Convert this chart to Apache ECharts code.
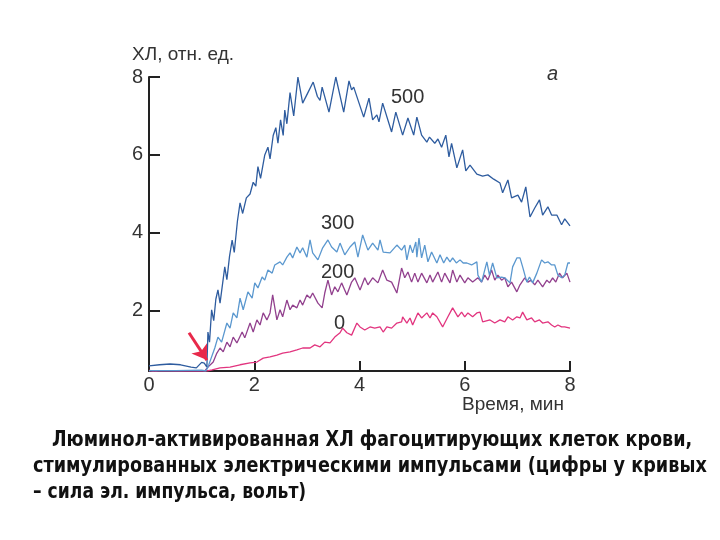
<!DOCTYPE html>
<html>
<head>
<meta charset="utf-8">
<script src="https://cdn.jsdelivr.net/npm/echarts@6/dist/echarts.min.js"></script>
<style>html,body{margin:0;padding:0;background:#fff}#c{width:720px;height:540px}</style>
</head>
<body>
<div id="c"></div>
<script>
// ---- data (time, min ; chemiluminescence, rel. units) ----
const xTicks = [0, 2, 4, 6, 8];
const yTicks = [2, 4, 6, 8];
const seriesNames = ['500', '300', '200', '0'];

const t500 = [0,0.2,0.4,0.6,0.8,0.9,1.0,1.05,1.1,1.12,1.15,1.19,1.23,1.27,1.31,1.35,1.44,1.48,1.53,1.58,1.62,1.68,1.73,1.78,1.85,1.92,1.98,2.03,2.07,2.12,2.2,2.26,2.3,2.36,2.41,2.45,2.5,2.55,2.58,2.62,2.68,2.75,2.83,2.92,3.02,3.12,3.2,3.25,3.29,3.42,3.55,3.70,3.80,3.85,3.89,4.08,4.18,4.25,4.33,4.37,4.44,4.61,4.69,4.82,4.92,5.03,5.09,5.18,5.28,5.33,5.43,5.49,5.56,5.64,5.70,5.75,5.85,5.96,6.02,6.10,6.23,6.34,6.44,6.55,6.67,6.72,6.82,6.89,7.01,7.08,7.16,7.24,7.33,7.42,7.48,7.58,7.65,7.75,7.84,7.90,8.0];
const v500 = [0.59,0.62,0.64,0.62,0.56,0.54,0.68,0.66,0.56,1.46,1.2,2.03,1.75,2.3,2.54,2.2,3.13,2.8,3.4,3.82,3.5,4.3,4.77,4.5,4.9,5.0,5.3,5.2,5.7,5.4,6.0,6.2,5.9,6.5,6.7,6.3,6.9,6.5,7.15,6.8,7.6,7.0,8.0,7.33,7.6,7.87,7.5,7.4,7.74,7.1,8.0,7.1,7.9,7.67,7.74,6.97,7.46,6.9,7.03,6.85,7.33,6.59,7.1,6.51,6.95,6.51,6.97,6.51,6.33,6.46,6.3,6.41,6.2,6.51,5.95,6.3,5.67,6.13,5.59,5.74,5.51,5.46,5.49,5.38,5.28,5.03,5.36,4.9,4.97,4.79,5.18,4.41,4.64,4.85,4.46,4.67,4.46,4.46,4.21,4.36,4.18];

const t300 = [0,0.5,1.0,1.08,1.12,1.25,1.31,1.38,1.48,1.54,1.6,1.67,1.73,1.79,1.88,1.96,2.01,2.07,2.15,2.2,2.26,2.34,2.39,2.49,2.54,2.62,2.68,2.73,2.81,2.87,2.92,3.0,3.06,3.11,3.21,3.30,3.40,3.47,3.57,3.63,3.72,3.82,3.91,3.97,4.06,4.16,4.25,4.35,4.39,4.45,4.58,4.71,4.8,4.86,4.9,4.96,5.01,5.07,5.09,5.13,5.18,5.24,5.3,5.37,5.47,5.53,5.6,5.66,5.72,5.77,5.84,5.91,5.97,6.04,6.13,6.23,6.25,6.32,6.42,6.47,6.53,6.61,6.70,6.76,6.86,6.91,6.99,7.05,7.10,7.18,7.23,7.29,7.37,7.46,7.52,7.58,7.65,7.71,7.77,7.84,7.9,7.96,8.0];
const v300 = [0.47,0.47,0.48,0.46,0.56,1.05,1.33,1.2,1.69,1.56,1.95,1.82,2.33,2.03,2.49,2.33,2.72,2.59,2.87,2.79,3.05,2.97,3.18,3.26,3.18,3.38,3.49,3.36,3.64,3.49,3.62,3.38,3.82,3.49,3.31,3.62,3.82,3.64,3.51,3.74,3.44,3.64,3.77,3.38,3.95,3.56,3.74,3.56,3.82,3.51,3.49,3.69,3.56,3.69,3.31,3.69,3.49,3.77,3.38,3.87,3.36,3.69,3.26,3.51,3.23,3.44,3.23,3.38,3.26,3.36,3.23,3.31,3.23,3.23,3.18,3.26,2.92,2.74,3.26,2.92,3.23,2.85,2.87,2.85,2.72,3.13,3.36,3.36,3.13,2.74,2.87,2.72,2.97,3.31,3.23,3.26,3.18,3.18,2.92,2.85,2.92,3.23,3.23];

const t200 = [0,0.5,1.0,1.06,1.12,1.22,1.29,1.35,1.41,1.48,1.54,1.6,1.67,1.77,1.82,1.92,1.98,2.05,2.11,2.17,2.24,2.3,2.35,2.43,2.49,2.54,2.62,2.68,2.73,2.81,2.87,2.92,3.0,3.06,3.11,3.21,3.29,3.34,3.40,3.47,3.53,3.59,3.66,3.76,3.85,3.91,4.01,4.10,4.16,4.25,4.35,4.44,4.52,4.61,4.71,4.8,4.86,4.92,4.99,5.05,5.11,5.18,5.28,5.34,5.39,5.49,5.56,5.62,5.72,5.77,5.85,5.91,6.0,6.06,6.15,6.25,6.32,6.38,6.44,6.51,6.57,6.63,6.70,6.76,6.82,6.89,6.99,7.05,7.14,7.20,7.26,7.33,7.39,7.48,7.56,7.61,7.67,7.73,7.80,7.86,7.94,8.0];
const v200 = [0.46,0.46,0.46,0.46,0.56,0.69,0.92,1.05,0.95,1.2,1.08,1.33,1.18,1.46,1.31,1.69,1.46,1.77,1.64,1.95,1.77,1.95,2.41,1.77,2.03,1.85,2.28,2.03,2.15,2.08,2.28,2.15,2.41,2.33,2.46,2.2,2.08,2.46,2.79,2.41,2.62,2.49,2.72,2.41,2.74,2.85,2.54,2.85,2.67,2.85,2.72,3.05,2.79,2.74,2.46,3.1,2.85,3.0,2.74,2.97,2.74,2.97,2.72,2.92,2.74,3.0,2.74,2.97,2.72,3.05,2.74,2.92,2.72,2.85,2.74,2.85,2.74,2.92,2.79,3.05,2.79,2.92,2.79,2.85,2.62,2.74,2.49,2.67,2.85,2.74,2.79,2.67,2.79,2.62,2.79,2.72,2.85,2.74,2.97,2.85,2.97,2.74];

const t0 = [0,0.1,0.2,0.6,1.1,1.2,1.35,1.54,1.73,1.92,2.05,2.17,2.3,2.43,2.54,2.68,2.81,2.92,3.06,3.15,3.25,3.34,3.44,3.53,3.63,3.68,3.76,3.85,3.95,4.01,4.10,4.20,4.29,4.39,4.45,4.52,4.61,4.71,4.8,4.82,4.9,4.96,5.01,5.11,5.18,5.28,5.34,5.39,5.47,5.58,5.68,5.77,5.87,5.94,6.0,6.06,6.15,6.23,6.29,6.34,6.48,6.57,6.67,6.76,6.82,6.91,6.99,7.05,7.10,7.18,7.27,7.33,7.42,7.48,7.58,7.65,7.71,7.77,7.84,7.9,8.0];
const v0 = [0.48,0.44,0.47,0.46,0.46,0.49,0.54,0.56,0.62,0.67,0.69,0.79,0.82,0.87,0.92,0.95,1.0,1.05,1.05,1.13,1.08,1.2,1.18,1.33,1.44,1.56,1.44,1.38,1.69,1.59,1.51,1.59,1.56,1.59,1.46,1.59,1.56,1.69,1.72,1.85,1.69,1.82,1.64,1.95,1.82,1.95,1.82,1.95,1.85,1.59,1.85,2.08,1.85,1.97,1.85,1.95,1.85,1.95,1.97,1.72,1.77,1.69,1.77,1.72,1.85,1.77,1.85,1.82,1.97,1.77,1.82,1.72,1.77,1.69,1.72,1.64,1.59,1.64,1.59,1.59,1.56];

// stimulus moment arrow (annotation, data coords)
const arrowFrom = [0.76, 1.44];
const arrowTo = [1.10, 0.74];

const pair = (t, v) => t.map((x, i) => [x, v[i]]);
const colors = {'500': '#2e5c9f', '300': '#5b98cf', '200': '#92418e', '0': '#e2357f'};
const dataSets = {'500': pair(t500, v500), '300': pair(t300, v300), '200': pair(t200, v200), '0': pair(t0, v0)};

const font = "'Liberation Sans', Arial, sans-serif";
const capFont = "bold 21px 'Liberation Sans Narrow', 'DejaVu Sans Condensed', sans-serif";
const chart = echarts.init(document.getElementById('c'), null, {renderer: 'canvas'});

const series = ['0', '200', '300', '500'].map(n => ({
  name: n, type: 'line', data: dataSets[n], showSymbol: false, symbol: 'none',
  lineStyle: {color: colors[n], width: 1.3}, animation: false, z: 3
}));
series[0].markLine = {
  silent: true, symbol: ['none', 'arrow'], symbolSize: [14, 14], animation: false,
  label: {show: false},
  lineStyle: {color: '#e8294a', width: 3, type: 'solid'},
  data: [[{coord: arrowFrom}, {coord: arrowTo}]]
};

const txt = (x, y, s, opt = {}, extra = {}) => Object.assign({
  type: 'text', left: x, top: y,
  style: Object.assign({text: s, font: `20px ${font}`, fill: '#333'}, opt)
}, extra);

chart.setOption({
  animation: false,
  backgroundColor: '#fff',
  grid: {left: 149, right: 150, top: 77, bottom: 169},
  xAxis: {
    type: 'value', min: 0, max: 8, interval: 2,
    axisLine: {lineStyle: {color: '#222', width: 2}},
    axisTick: {inside: true, length: 10, lineStyle: {color: '#222', width: 2}},
    axisLabel: {fontSize: 20, fontFamily: font, color: '#333', margin: 4,
      customValues: xTicks},
    splitLine: {show: false}
  },
  yAxis: {
    type: 'value', min: 0.46, max: 8,
    axisLine: {show: true, lineStyle: {color: '#222', width: 2}},
    axisTick: {show: true, inside: true, length: 11, lineStyle: {color: '#222', width: 2}, customValues: yTicks},
    axisLabel: {fontSize: 20, fontFamily: font, color: '#333', margin: 6, customValues: yTicks},
    splitLine: {show: false}
  },
  series: series,
  graphic: [
    txt(132, 45, 'ХЛ, отн. ед.', {font: `19px ${font}`}),
    txt(462, 395, 'Время, мин', {font: `19px ${font}`}),
    txt(547, 64, 'a', {font: `italic 20px ${font}`}),
    txt(391, 87, '500'),
    txt(321, 213, '300'),
    txt(321, 262, '200'),
    txt(334, 313, '0'),
    txt(52, 430, 'Люминол-активированная ХЛ фагоцитирующих клеток крови,',
      {font: capFont, fill: '#111'}, {scaleX: 0.93}),
    txt(33, 456, 'стимулированных электрическими импульсами (цифры у кривых',
      {font: capFont, fill: '#111'}, {scaleX: 0.935}),
    txt(33, 482, '– сила эл. импульса, вольт)',
      {font: capFont, fill: '#111'}, {scaleX: 0.91})
  ]
});
</script>
</body>
</html>
